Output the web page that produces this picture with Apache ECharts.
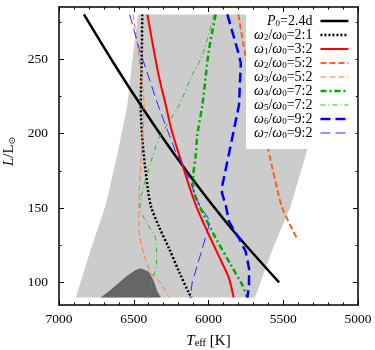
<!DOCTYPE html>
<html>
<head>
<meta charset="utf-8">
<script src="https://cdn.jsdelivr.net/npm/echarts@6/dist/echarts.min.js"></script>
<style>
html, body { margin: 0; padding: 0; background: #fff; }
#chart { width: 375px; height: 350px; }
</style>
</head>
<body>
<div id="chart"></div>
<script>
var FONT = 'Liberation Serif';

// axis ticks
var yMajor = [100, 150, 200, 250];
var yMinor = [125, 175, 225, 275];

// instability strip and the darker patch, [Teff, L]
var strip = [[6888, 90], [6788, 122], [6688, 152], [6610, 186], [6543, 219], [6505, 253], [6471, 280],
    [5170, 280], [5250, 225], [5339, 189], [5455, 150], [5566, 124], [5689, 90]];
var patch = [[6721, 90], [6643, 96], [6554, 104], [6487, 108.5], [6453, 109.6], [6398, 107.3],
    [6364, 100.6], [6342, 94], [6318, 90]];

// curves, [Teff, L]
var p0 = [[6833, 280], [6632, 246.9], [6431, 215.7], [6231, 186.5], [6030, 159.3], [5829, 134.2],
    [5528, 100.2]];
var w2_21 = [[6443, 280], [6447, 249.4], [6453, 219.2], [6443, 196.9], [6420, 174.5], [6387, 152.1],
    [6331, 137.5], [6264, 123], [6197, 107.4], [6130, 92.8], [6112, 90]];
var w1_32 = [[6409, 280], [6376, 261.7], [6331, 238], [6286, 219.2], [6247, 202.4], [6164, 175.6],
    [6085, 152.1], [5997, 132], [5918, 115.2], [5863, 102.9], [5832, 90]];
var w2_52 = [[5800, 280], [5749, 250.6], [5600, 189], [5510, 151], [5410, 130]];
var w3_52 = [[6505, 280], [6471, 256], [6431, 219], [6453, 181], [6465, 152], [6465, 136.5],
    [6431, 118.6], [6376, 105.1], [6320, 99.8], [6264, 90]];
var w4_72 = [[5952, 280], [5997, 256], [6041, 219.2], [6075, 199], [6085, 185.7], [6104, 169],
    [6097, 161], [6063, 152], [5952, 130], [5851, 112], [5774, 98.4], [5740, 90]];
var w5_72 = [[5963, 280], [6041, 252.8], [6108, 239.4], [6197, 219.2], [6264, 208], [6331, 197],
    [6398, 176.7], [6443, 161], [6458, 151], [6425, 142], [6358, 130.8], [6347, 122], [6347, 113],
    [6369, 104], [6403, 90]];
var w6_92 = [[5874, 280], [5796, 252.8], [5784, 247.2], [5796, 219.2], [5851, 192.4], [5907, 165.5],
    [5910, 160.2], [5885, 152.1], [5863, 140.9], [5796, 129.8], [5751, 120.8], [5729, 109.6],
    [5729, 98.4], [5740, 90]];
var w7_92 = [[6527, 280], [6465, 257.3], [6398, 237.3], [6331, 217.2], [6224, 189], [6130, 170],
    [6063, 152.1], [6003, 143.4], [5990, 140.9], [6041, 123], [6108, 100.6], [6124, 90]];

var names = ['P_0=2.4d', 'ω_2/ω_0=2:1', 'ω_1/ω_0=3:2', 'ω_2/ω_0=5:2', 'ω_3/ω_0=5:2',
    'ω_4/ω_0=7:2', 'ω_5/ω_0=7:2', 'ω_6/ω_0=9:2', 'ω_7/ω_0=9:2'];
var widths = [2.5, 2.5, 2, 2, 1, 2.5, 1, 2.5, 1];

function richName(name) {
    var out = '';
    for (var i = 0; i < name.length; i++) {
        var c = name[i];
        if (c === '_') {
            out += '{s|' + name[i + 1] + '}';
            i++;
        } else if (c === 'P' || c === 'ω') {
            out += '{i|' + c + '}';
        } else {
            out += '{t|' + c + '}';
        }
    }
    return out + '{g|}';
}

function polygonSeries(points, color) {
    return {
        type: 'custom',
        silent: true,
        clip: true,
        z: 1,
        data: [points[0]],
        renderItem: function (params, api) {
            return {
                type: 'polygon',
                shape: { points: points.map(function (p) { return api.coord(p); }) },
                style: { fill: color }
            };
        }
    };
}

function lineSeries(idx, data, color, dash, smooth) {
    return {
        type: 'line',
        name: names[idx],
        data: data,
        symbol: 'none',
        smooth: smooth,
        z: 3,
        itemStyle: { color: color },
        lineStyle: { color: color, width: widths[idx], type: dash }
    };
}

function xAxis(pos, labels) {
    return {
        type: 'value',
        position: pos,
        inverse: true,
        min: 5000,
        max: 7000,
        interval: 500,
        axisLine: { show: true, lineStyle: { color: '#000', width: 1.5 } },
        axisTick: { inside: true, length: 5, lineStyle: { color: '#000' } },
        minorTick: { show: true, splitNumber: 5, length: 2.5, lineStyle: { color: '#000' } },
        axisLabel: {
            show: labels, margin: 7, fontFamily: FONT, fontSize: 13.5, color: '#000',
            formatter: function (v) { return String(v); }
        },
        splitLine: { show: false }
    };
}

function yAxis(pos, ticks, len, line, labels) {
    return {
        type: 'value',
        position: pos,
        min: 85,
        max: 285,
        axisLine: { show: line, lineStyle: { color: '#000', width: 1.5 } },
        axisTick: { show: true, inside: true, length: len, customValues: ticks, lineStyle: { color: '#000' } },
        axisLabel: { show: labels, customValues: ticks, margin: 11, fontFamily: FONT, fontSize: 13.5, color: '#000' },
        splitLine: { show: false }
    };
}

var chart = echarts.init(document.getElementById('chart'));

var bottomX = xAxis('bottom', true);
bottomX.name = '{i|T}{s|eff}{t| [K]}';
bottomX.nameLocation = 'middle';
bottomX.nameGap = 28;
bottomX.nameTextStyle = {
    rich: {
        t: { fontFamily: FONT, fontSize: 15, lineHeight: 16, color: '#000' },
        i: { fontFamily: FONT, fontSize: 15, lineHeight: 16, fontStyle: 'italic', color: '#000' },
        s: { fontFamily: FONT, fontSize: 10.5, lineHeight: 7, verticalAlign: 'bottom', color: '#000' }
    }
};

var leftY = yAxis('left', yMajor, 5, true, true);
leftY.name = '{i|L}{t|/L}{s|⊙}';
leftY.nameLocation = 'middle';
leftY.nameRotate = 90;
leftY.nameGap = 39;
leftY.nameTextStyle = {
    padding: [0, 0, 0, 9],
    rich: {
        t: { fontFamily: FONT, fontSize: 15, lineHeight: 16, color: '#000' },
        i: { fontFamily: FONT, fontSize: 15, lineHeight: 16, fontStyle: 'italic', color: '#000' },
        s: { fontFamily: 'DejaVu Sans', fontSize: 9, lineHeight: 6, verticalAlign: 'bottom', color: '#000' }
    }
};

var option = {
    animation: false,
    backgroundColor: '#fff',
    grid: { left: 59, right: 17, top: 7, bottom: 45, outerBoundsMode: 'none' },
    xAxis: [bottomX, xAxis('top', false)],
    yAxis: [
        leftY,
        yAxis('left', yMinor, 2.5, false, false),
        yAxis('right', yMajor, 5, true, false),
        yAxis('right', yMinor, 2.5, false, false)
    ],
    legend: {
        data: names.map(function (n, i) { return { name: n, lineStyle: { width: widths[i] } }; }),
        orient: 'vertical',
        align: 'right',
        left: 246,
        top: 13,
        padding: [1, 6, 9, 8],
        itemGap: 0,
        itemWidth: 28,
        itemHeight: 14,
        backgroundColor: '#fff',
        selectedMode: false,
        itemStyle: { opacity: 0 },
        formatter: richName,
        textStyle: {
            rich: {
                t: { fontFamily: FONT, fontSize: 14, lineHeight: 14, color: '#000' },
                i: { fontFamily: FONT, fontSize: 14, lineHeight: 14, fontStyle: 'italic', color: '#000' },
                s: { fontFamily: FONT, fontSize: 9, lineHeight: 6, verticalAlign: 'bottom', color: '#000' },
                g: { width: 3 }
            }
        }
    },
    series: [
        polygonSeries(strip, '#cccccc'),
        polygonSeries(patch, '#666666'),
        lineSeries(0, p0, '#000000', 'solid', 0.3),
        lineSeries(1, w2_21, '#000000', [2, 2], 0.3),
        lineSeries(2, w1_32, '#ff0000', 'solid', 0.3),
        lineSeries(3, w2_52, '#ff6020', [6, 3], 0.2),
        lineSeries(4, w3_52, '#ff7a3a', [6, 3], 0.3),
        lineSeries(5, w4_72, '#00aa00', [6, 3, 2, 3], 0.3),
        lineSeries(6, w5_72, '#22bb22', [5, 3, 1, 3], 0.3),
        lineSeries(7, w6_92, '#0000ff', [10, 5], false),
        lineSeries(8, w7_92, '#2a2aff', [10, 5], false)
    ]
};
chart.setOption(option);
</script>
</body>
</html>
